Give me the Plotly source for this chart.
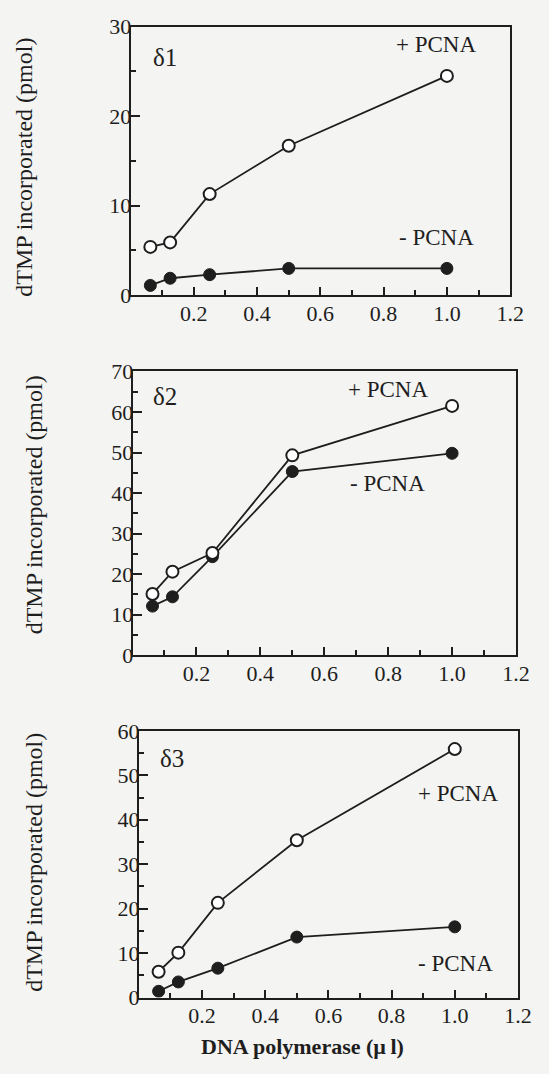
import plotly.graph_objects as go

W, H = 549, 1074

# ---- data ----
x_vol = [0.0625, 0.125, 0.25, 0.5, 1.0]
d1_plus = [5.4, 5.9, 11.3, 16.7, 24.5]
d1_minus = [1.1, 1.9, 2.3, 3.0, 3.0]
d2_plus = [15.1, 20.6, 25.2, 49.3, 61.5]
d2_minus = [12.1, 14.4, 24.3, 45.3, 49.8]
d3_plus = [5.8, 10.1, 21.3, 35.4, 55.9]
d3_minus = [1.4, 3.5, 6.6, 13.6, 15.9]
x_ticks = [0.2, 0.4, 0.6, 0.8, 1.0, 1.2]
x_tick_labels = ["0.2", "0.4", "0.6", "0.8", "1.0", "1.2"]
y_ticks = [[0, 10, 20, 30], [0, 10, 20, 30, 40, 50, 60, 70], [0, 10, 20, 30, 40, 50, 60]]
y_max = [30, 70, 60]

FONT = "Liberation Serif"
INK = "#1e1e1e"
BG = "#f4f4f2"

# panel boxes in pixels: (left, right, top, bottom)
boxes = [(134, 523.5, 15, 290), (136, 529.5, 368, 658.5), (142.5, 531.5, 736, 1009)]

fig = go.Figure()
series = [(d1_plus, d1_minus), (d2_plus, d2_minus), (d3_plus, d3_minus)]

for i, ((plus, minus), box) in enumerate(zip(series, boxes)):
    n = "" if i == 0 else str(i + 1)
    xa, ya = "x" + n, "y" + n
    fig.add_trace(go.Scatter(x=x_vol, y=minus, mode="lines+markers", xaxis=xa, yaxis=ya,
                             line=dict(color=INK, width=1.8),
                             marker=dict(symbol="circle", size=12, color=INK,
                                         line=dict(color=INK, width=1)),
                             name="- PCNA", showlegend=False))
    fig.add_trace(go.Scatter(x=x_vol, y=plus, mode="lines+markers", xaxis=xa, yaxis=ya,
                             line=dict(color=INK, width=1.8),
                             marker=dict(symbol="circle", size=12, color="white",
                                         line=dict(color=INK, width=2)),
                             name="+ PCNA", showlegend=False))
    l, r, t, b = box
    xdom = [l / W, r / W]
    ydom = [1 - b / H, 1 - t / H]
    common = dict(showline=True, linecolor=INK, linewidth=2, mirror=True,
                  ticks="inside", tickcolor=INK, tickwidth=1.8,
                  showgrid=False, zeroline=False,
                  tickfont=dict(family=FONT, size=22, color=INK))
    fig.layout["xaxis" + n] = dict(domain=xdom, range=[0, 1.2], anchor=ya,
                                   tickvals=x_ticks, ticktext=x_tick_labels, ticklen=8,
                                   minor=dict(dtick=0.1, tick0=0, ticks="inside", ticklen=5,
                                              tickcolor=INK, tickwidth=1.8),
                                   ticklabelstandoff=-3, **common)
    fig.layout["yaxis" + n] = dict(domain=ydom, range=[0, y_max[i]], anchor=xa,
                                   tickvals=y_ticks[i], ticklen=9,
                                   minor=dict(dtick=5, tick0=0, ticks="inside", ticklen=5,
                                              tickcolor=INK, tickwidth=1.8),
                                   ticklabelstandoff=-7, **common)

# text labels (pixel positions -> paper)
def ann(text, px, py, size=22, angle=0, bold=False):
    fig.add_annotation(x=px / W, y=1 - py / H, xref="paper", yref="paper",
                       text=("<b>%s</b>" % text) if bold else text, showarrow=False,
                       textangle=angle, xanchor="center", yanchor="middle",
                       font=dict(family=FONT, size=size, color=INK))

labels = [
    [("δ1", 169, 47), ("+ PCNA", 447, 33), ("- PCNA", 448, 231)],
    [("δ2", 169, 394), ("+ PCNA", 398, 387), ("- PCNA", 398, 483)],
    [("δ3", 177, 764), ("+ PCNA", 470, 800), ("- PCNA", 467, 974)],
]
for group in labels:
    for t, px, py in group:
        ann(t, px, py, size=25 if t.startswith("δ") else 23)

ylab = "dTMP incorporated (pmol)"
ann(ylab, 25, 159, size=24, angle=-90)
ann(ylab, 35, 505, size=24, angle=-90)
ann(ylab, 35, 871, size=24, angle=-90)
ann("DNA polymerase (µ\u2009l)", 310, 1059, size=22, bold=True)

fig.update_layout(width=W, height=H, margin=dict(l=0, r=0, t=0, b=0),
                  paper_bgcolor=BG, plot_bgcolor=BG, showlegend=False)

fig.write_html("out.html")
